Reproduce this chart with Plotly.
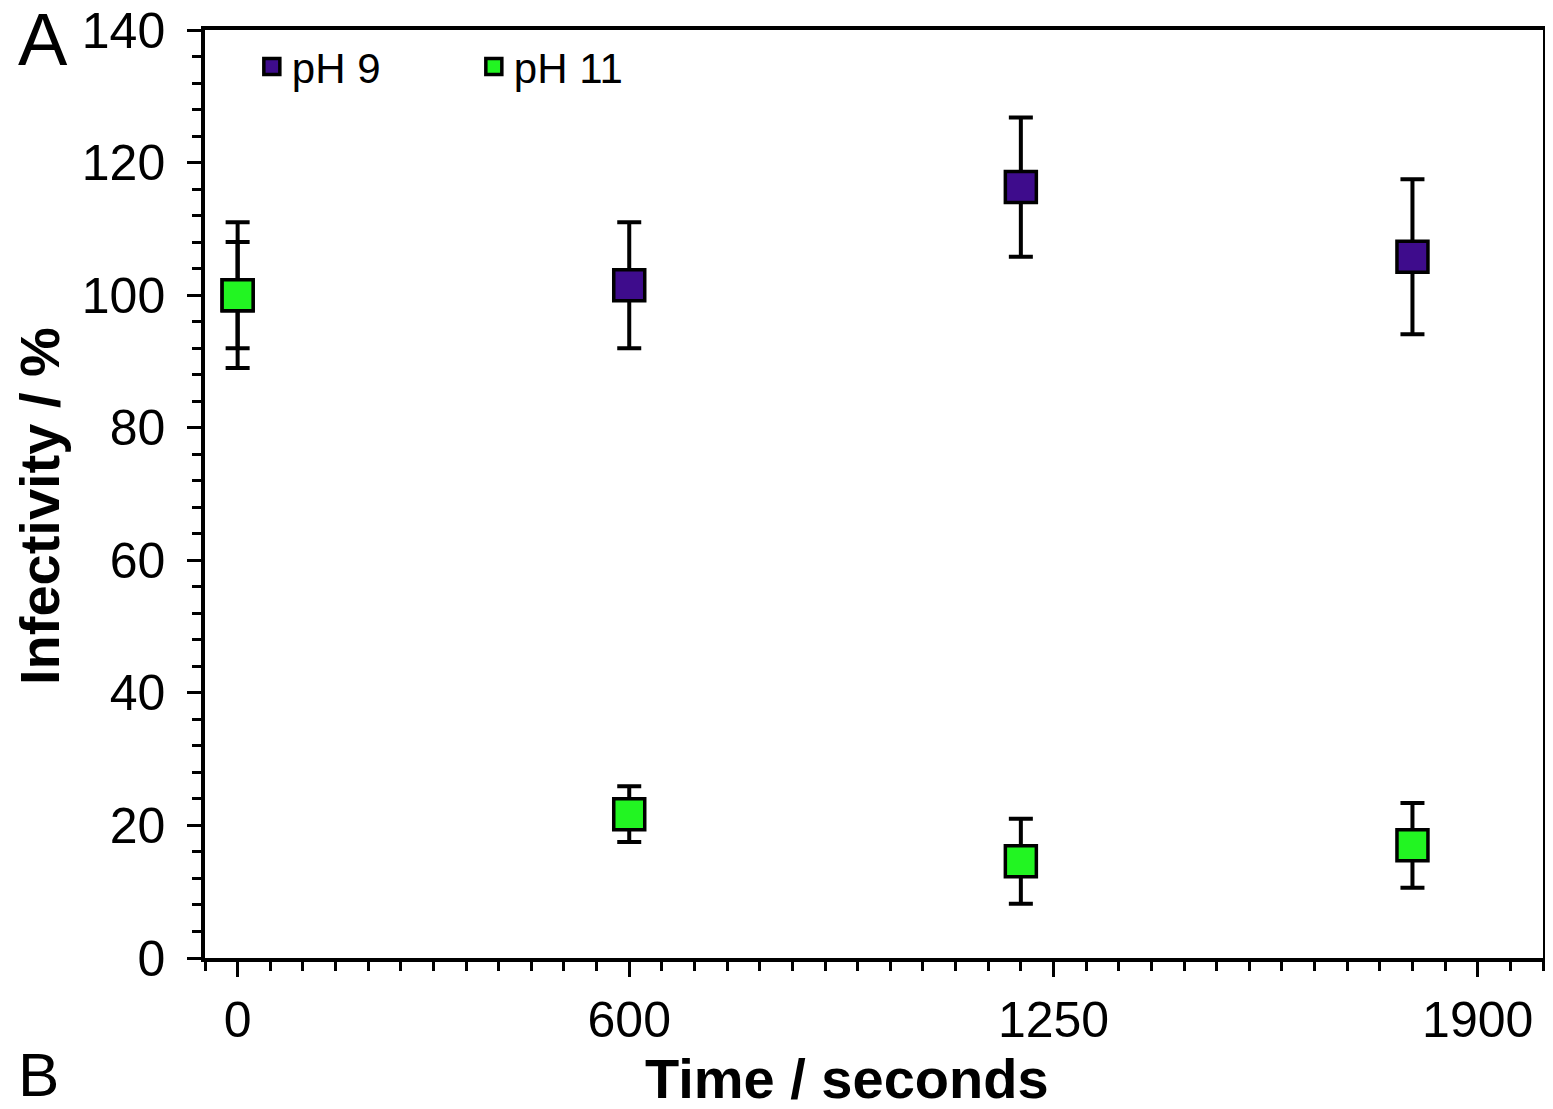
import plotly.graph_objects as go

time_s = [0, 600, 1200, 1800]
ph9_vals = [100, 101.5, 116.3, 105.8]
ph9_err = [8, 9.5, 10.5, 11.7]
ph11_vals = [100, 21.7, 14.6, 17.0]
ph11_err = [11, 4.2, 6.4, 6.4]
x_tick_vals = [0, 600, 1250, 1900]
x_tick_text = ["0", "600", "1250", "1900"]
y_tick_vals = [0, 20, 40, 60, 80, 100, 120, 140]

FONT = "Liberation Sans, Arial, sans-serif"
# page body has an 8px margin; figure is sized/offset to compensate
L, R, T, B = 197, 10, 22, 151
W, H = 1545, 1101

fig = go.Figure()
fig.add_trace(go.Scatter(
    x=time_s, y=ph9_vals, mode="markers", name="pH 9",
    marker=dict(symbol="square", size=31, color="#3e0c8c",
                line=dict(color="black", width=3.5)),
    error_y=dict(type="data", array=ph9_err, color="black", thickness=4, width=12),
))
fig.add_trace(go.Scatter(
    x=time_s, y=ph11_vals, mode="markers", name="pH 11",
    marker=dict(symbol="square", size=31, color="#22f522",
                line=dict(color="black", width=3.5)),
    error_y=dict(type="data", array=ph11_err, color="black", thickness=4, width=12),
))

fig.update_layout(
    width=W, height=H,
    margin=dict(l=L, r=R, t=T, b=B),
    paper_bgcolor="white", plot_bgcolor="white",
    font=dict(family=FONT, color="black", size=42),
    showlegend=True,
    legend=dict(orientation="h", x=0.035, y=0.997, xanchor="left", yanchor="top",
                font=dict(size=42), bgcolor="rgba(0,0,0,0)", itemwidth=30,
                entrywidth=177, entrywidthmode="pixels", tracegroupgap=0),
    xaxis=dict(
        range=[-50, 2000], tickmode="array", tickvals=x_tick_vals, ticktext=x_tick_text,
        ticks="outside", ticklen=15, tickwidth=3, tickcolor="black",
        showline=True, linewidth=3.5, linecolor="black", mirror=True,
        showgrid=False, zeroline=False, tickfont=dict(size=50), automargin=False,
        ticklabeloverflow="allow",
        minor=dict(tick0=-50, dtick=50, ticks="outside", ticklen=9, tickwidth=3,
                   tickcolor="black", showgrid=False),
    ),
    yaxis=dict(
        range=[0, 140], tickmode="array", tickvals=y_tick_vals,
        ticks="outside", ticklen=14, tickwidth=3, tickcolor="black",
        showline=True, linewidth=3.5, linecolor="black", mirror=True,
        showgrid=False, zeroline=False, tickfont=dict(size=50), automargin=False,
        ticklabelstandoff=12, ticklabeloverflow="allow",
        minor=dict(dtick=4, ticks="outside", ticklen=9, tickwidth=3,
                   tickcolor="black", showgrid=False),
    ),
)

pw, ph = W - L - R, H - T - B


def paper_xy(px, py):
    return (px - L) / pw, 1 - (py - T) / ph


# axis titles (positioned in figure pixels)
tx, ty = paper_xy(839, 1070)
fig.add_annotation(text="<b>Time / seconds</b>", x=tx, y=ty, xref="paper", yref="paper",
                   showarrow=False, font=dict(size=56, family=FONT),
                   xanchor="center", yanchor="middle")
yx, yy = paper_xy(31, 498)
fig.add_annotation(text="<b>Infectivity / %</b>", x=yx, y=yy, xref="paper", yref="paper",
                   showarrow=False, font=dict(size=56, family=FONT), textangle=-90,
                   xanchor="center", yanchor="middle")

ax, ay = paper_xy(8, -12)
fig.add_annotation(text="A", x=ax, y=ay, xref="paper", yref="paper",
                   showarrow=False, font=dict(size=74, family=FONT),
                   xanchor="left", yanchor="top")
bx, by = paper_xy(8, 1030)
fig.add_annotation(text="B", x=bx, y=by, xref="paper", yref="paper",
                   showarrow=False, font=dict(size=62, family=FONT),
                   xanchor="left", yanchor="top")

fig.write_html("out.html")
